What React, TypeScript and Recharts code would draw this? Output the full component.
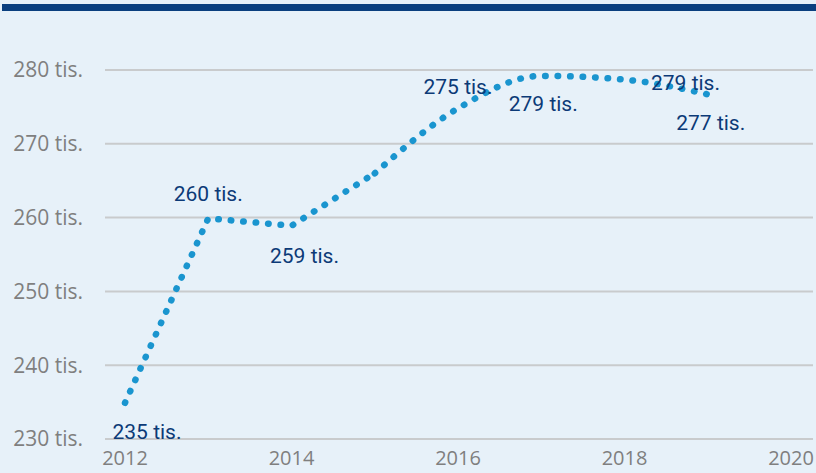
import { LineChart, Line, XAxis, YAxis, CartesianGrid, LabelList } from 'recharts';

const years = [2012, 2013, 2014, 2015, 2016, 2017, 2018, 2019];
const employees = [234.9, 259.9, 258.9, 266.0, 274.8, 279.2, 278.7, 276.7];
const valueLabels = ['235 tis.', '260 tis.', '259 tis.', '', '275 tis.', '279 tis.', '279 tis.', '277 tis.'];
const xTicks = [2012, 2014, 2016, 2018, 2020];
const yTicks = [230, 240, 250, 260, 270, 280];

// straight part of the line up to 2015, smoothed afterwards
const smoothFrom = 2015;

// label offsets from each point (centre of text)
const labelShift = [
  [22, 29],
  [0, -24],
  [13, 30],
  [0, 0],
  [0, -21],
  [2, 28],
  [61, 3],
  [3, 29],
];

const data = years.map((year, i) => ({
  year,
  early: year <= smoothFrom ? employees[i] : null,
  late: year >= smoothFrom ? employees[i] : null,
  value: employees[i],
  label: valueLabels[i],
}));

const PointLabel = (props: any) => {
  const { x, y, index, value } = props;
  if (!value) return null;
  const [dx, dy] = labelShift[index] || [0, 0];
  return (
    <text
      x={x + dx}
      y={y + dy}
      textAnchor='middle'
      dominantBaseline='central'
      fill='#0c3a77'
      fontSize={21}
      fontWeight={400}
      fontFamily='Roboto, sans-serif'
    >
      {value}
    </text>
  );
};

const App = () => (
  <div
    style={{
      position: 'absolute',
      left: 0,
      top: 0,
      width: 816,
      height: 473,
      background: '#e7f1f9',
      overflow: 'hidden',
    }}
  >
    <div
      style={{
        position: 'absolute',
        left: 2,
        top: 4,
        width: 814,
        height: 7,
        background: '#0a3f7f',
      }}
    />
    <LineChart
      width={816}
      height={473}
      data={data}
      margin={{ top: 70, right: 3, bottom: 0, left: 0 }}
      style={{ fontFamily: "'Open Sans', sans-serif" }}
    >
      <CartesianGrid vertical={false} stroke='#c9cbcd' strokeWidth={2} />
      <XAxis
        dataKey='year'
        type='number'
        domain={[2012, 2020]}
        ticks={xTicks}
        padding={{ left: 20, right: 22 }}
        axisLine={false}
        tickLine={false}
        height={34}
        tickMargin={6}
        tick={{ fill: '#7f7f7f', fontSize: 20 }}
      />
      <YAxis
        domain={[230, 280]}
        ticks={yTicks}
        axisLine={false}
        tickLine={false}
        width={105}
        tickMargin={16}
        tickFormatter={(v: number) => `${v} tis.`}
        tick={{ fill: '#7f7f7f', fontSize: 21 }}
      />
      <Line
        type='linear'
        dataKey='early'
        stroke='#1a95cf'
        strokeWidth={6.5}
        strokeDasharray='0.5 12'
        strokeLinecap='round'
        dot={false}
        activeDot={false}
        isAnimationActive={false}
      />
      <Line
        type='monotone'
        dataKey='late'
        stroke='#1a95cf'
        strokeWidth={6.5}
        strokeDasharray='0.5 12'
        strokeLinecap='round'
        dot={false}
        activeDot={false}
        isAnimationActive={false}
      />
      <Line
        type='linear'
        dataKey='value'
        stroke='none'
        dot={false}
        activeDot={false}
        legendType='none'
        isAnimationActive={false}
      >
        <LabelList dataKey='label' content={PointLabel} />
      </Line>
    </LineChart>
  </div>
);

export default App;
